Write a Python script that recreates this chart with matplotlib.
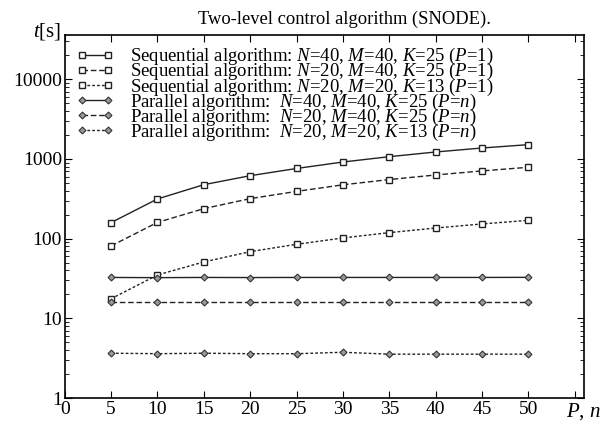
import numpy as np
from matplotlib import pyplot as plt

plt.rcParams['font.family'] = 'Liberation Serif'
plt.rcParams['mathtext.fontset'] = 'custom'
plt.rcParams['mathtext.rm'] = 'Liberation Serif'
plt.rcParams['mathtext.it'] = 'Liberation Serif:italic'

P = [5, 10, 15, 20, 25, 30, 35, 40, 45, 50]
seq_40_40_25 = [159, 315, 476, 617, 760, 916, 1069, 1224, 1374, 1513]
seq_20_40_25 = [81, 160, 238, 318, 392, 474, 552, 630, 708, 787]
seq_20_20_13 = [17.6, 35, 51, 68.7, 85, 102, 119, 136, 153, 170]
par_40_40_25 = [32.6, 32.4, 32.6, 32.5, 32.6, 32.6, 32.6, 32.6, 32.6, 32.7]
par_20_40_25 = [16.2, 16.2, 16.2, 16.2, 16.2, 16.2, 16.2, 16.2, 16.2, 16.2]
par_20_20_13 = [3.65, 3.6, 3.65, 3.6, 3.6, 3.75, 3.55, 3.55, 3.55, 3.55]

labels = [
	r'Sequential algorithm: $N$=40, $M$=40, $K$=25 ($P$=1)',
	r'Sequential algorithm: $N$=20, $M$=40, $K$=25 ($P$=1)',
	r'Sequential algorithm: $N$=20, $M$=20, $K$=13 ($P$=1)',
	r'Parallel algorithm:  $N$=40, $M$=40, $K$=25 ($P$=$n$)',
	r'Parallel algorithm:  $N$=20, $M$=40, $K$=25 ($P$=$n$)',
	r'Parallel algorithm:  $N$=20, $M$=20, $K$=13 ($P$=$n$)',
]
series = [seq_40_40_25, seq_20_40_25, seq_20_20_13, par_40_40_25, par_20_40_25, par_20_20_13]
styles = ['-', (0, (4, 2)), (0, (2, 1.5)), '-', (0, (4, 2)), (0, (2, 1.5))]

fig = plt.figure(figsize=(6.03, 4.21), dpi=100)
ax = fig.add_axes([0.1073, 0.0546, 0.8612, 0.8623])

for i in range(6):
	if i < 3:
		ax.plot(P, series[i], linestyle=styles[i], color='#222222', lw=1.0,
			marker='s', markersize=5, mfc='white', mec='#222222', mew=1.0, label=labels[i])
	else:
		ax.plot(P, series[i], linestyle=styles[i], color='#222222', lw=1.0,
			marker='D', markersize=3.5, mfc='#999999', mec='#333333', mew=0.8, label=labels[i])

ax.set_yscale('log')
ax.set_ylim(1, 36000)
ax.set_xlim(0, 56)
ax.set_xticks(range(0, 56, 5))
ax.set_xticklabels([str(v) for v in range(0, 51, 5)] + [''])
ax.set_yticks([1, 10, 100, 1000, 10000])
ax.set_yticklabels(['1', '10', '100', '1000', '10000'])
ax.tick_params(which='both', direction='in', top=True, right=True, labelsize=14, pad=2)
ax.tick_params(which='major', length=5)
ax.tick_params(which='minor', length=3)
for s in ax.spines.values():
	s.set_linewidth(1.2)

fig.text(0.572, 0.955, 'Two-level control algorithm (SNODE).', fontsize=13.3, ha='center', va='center')
fig.text(0.055, 0.926, r'$t$[s]', fontsize=15, ha='left', va='center')
fig.text(0.938, 0.022, r'$P$, $n$', fontsize=15, ha='left', va='center')

ax.legend(loc='upper left', bbox_to_anchor=(0.0, 1.0), frameon=False, fontsize=13.5,
	numpoints=2, handlelength=2.0, labelspacing=-0.32, handletextpad=0.9, borderaxespad=0.2)

plt.savefig('out.png', dpi=100)
